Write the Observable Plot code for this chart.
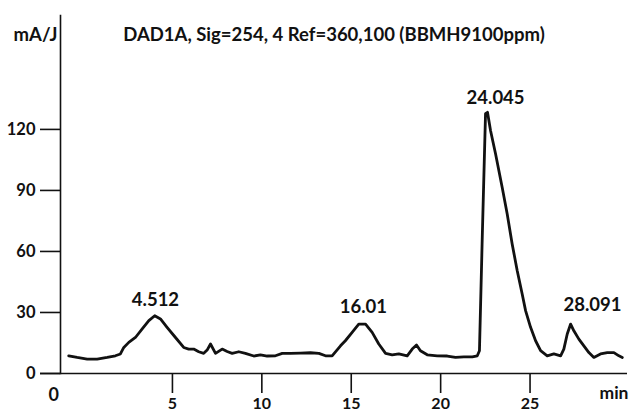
<!DOCTYPE html>
<html>
<head>
<meta charset="utf-8">
<script src="https://cdn.jsdelivr.net/npm/d3@7"></script>
<script src="https://cdn.jsdelivr.net/npm/@observablehq/plot@0.6"></script>
<style>
  html, body { margin: 0; padding: 0; background: #fff; overflow: hidden; }
  #chart svg { display: block; }
</style>
</head>
<body>
<div id="chart"></div>
<script>
// Chromatogram trace: retention time (min) and signal (mA/J)
const timeMin = [-0.80,-0.33,0.23,0.79,1.35,1.81,2.09,2.28,2.56,2.93,3.31,3.68,4.01,4.33,4.70,5.17,5.63,5.91,6.19,6.47,6.75,6.94,7.13,7.41,7.78,8.06,8.34,8.71,9.08,9.55,9.92,10.30,10.76,11.14,11.60,12.16,12.72,13.19,13.56,13.93,14.40,14.67,15.05,15.42,15.80,16.17,16.54,16.92,17.29,17.66,18.13,18.41,18.65,18.87,19.25,19.81,20.37,20.83,21.30,21.77,22.05,22.17,22.33,22.51,22.62,22.79,23.07,23.44,23.72,24.00,24.28,24.56,24.75,25.03,25.31,25.59,25.96,26.33,26.71,26.89,27.08,27.27,27.45,27.73,28.01,28.29,28.57,28.94,29.32,29.69,29.97,30.16];
const signal  = [8.7,7.9,7.1,7.1,7.9,8.7,9.6,12.8,15.3,17.7,21.9,26.0,28.4,26.8,22.7,17.7,12.8,12.0,12.0,10.7,9.9,11.5,14.5,9.9,12.0,10.8,9.9,10.7,9.9,8.6,9.2,8.6,8.7,9.9,9.9,10.0,10.2,9.9,8.7,8.7,13.6,16.1,20.2,24.3,24.3,20.2,14.5,9.9,9.2,9.6,8.7,12.0,14.0,11.2,9.2,8.7,8.6,7.9,8.2,8.2,8.7,11.2,67.8,127.7,128.4,119.5,108.0,91.6,78.5,63.7,50.6,39.1,30.9,22.7,16.1,11.2,8.7,9.6,8.7,12.0,19.4,24.3,21.0,16.9,13.6,10.3,7.9,9.6,10.3,10.3,8.7,7.9];

// Peak annotations (label text and where it sits)
const peakLabels = ["4.512", "16.01", "24.045", "28.091"];
const peakLabelTime = [4.05, 15.68, 23.07, 28.49];
const peakLabelSignal = [36.3, 32.8, 135.5, 33.8];

// Axis ticks
const xTicks = [5, 10, 15, 20, 25];
const yTicks = [0, 30, 60, 90, 120];

const titleText = "DAD1A, Sig=254, 4 Ref=360,100 (BBMH9100ppm)";
const yUnit = "mA/J";
const xUnit = "min";

const trace = timeMin.map((t, i) => ({t, s: signal[i]}));
const peaks = peakLabels.map((label, i) => ({label, t: peakLabelTime[i], s: peakLabelSignal[i]}));

const FONT = "Lato, 'Open Sans', sans-serif";
const chart = Plot.plot({
  width: 633,
  height: 413,
  marginLeft: 60,
  marginRight: 6,
  marginTop: 15,
  marginBottom: 40,
  style: {fontFamily: FONT, fontWeight: "bold", color: "#111", background: "#fff"},
  x: {domain: [-1.26, 30.45]},
  y: {domain: [0, 176]},
  marks: [
    Plot.axisY({ticks: yTicks, tickSize: 20, tickPadding: 5, fontSize: 16.5, fontWeight: "bold", label: null, strokeWidth: 1.6}),
    Plot.axisX({ticks: xTicks, tickSize: 20, tickPadding: 4, fontSize: 16, fontWeight: "bold", label: null, strokeWidth: 1.6}),
    Plot.frame({anchor: "left", strokeWidth: 1.6}),
    Plot.ruleY([0], {insetLeft: -20, strokeWidth: 1.6}),
    Plot.line(trace, {x: "t", y: "s", stroke: "#111", strokeWidth: 2.8, strokeLinejoin: "round", strokeLinecap: "round"}),
    Plot.text(peaks, {x: "t", y: "s", text: "label", fontSize: 18.5, fontWeight: "bold", fill: "#111"}),
    Plot.text([titleText], {frameAnchor: "top", dx: -10, dy: 12, fontSize: 18.5, fontWeight: "bold", fill: "#111"}),
    Plot.text([yUnit], {frameAnchor: "top-left", textAnchor: "end", dx: -3, dy: 12, fontSize: 18.5, fontWeight: "bold", fill: "#111"}),
    Plot.text(["0"], {frameAnchor: "bottom-left", dx: -12, dy: 27, fontSize: 18, fontWeight: "bold", fill: "#111"}),
    Plot.text([xUnit], {frameAnchor: "bottom-right", textAnchor: "end", dx: 1, dy: 25, fontSize: 17.5, fontWeight: "bold", fill: "#111"})
  ]
});
document.getElementById("chart").append(chart);
</script>
</body>
</html>
